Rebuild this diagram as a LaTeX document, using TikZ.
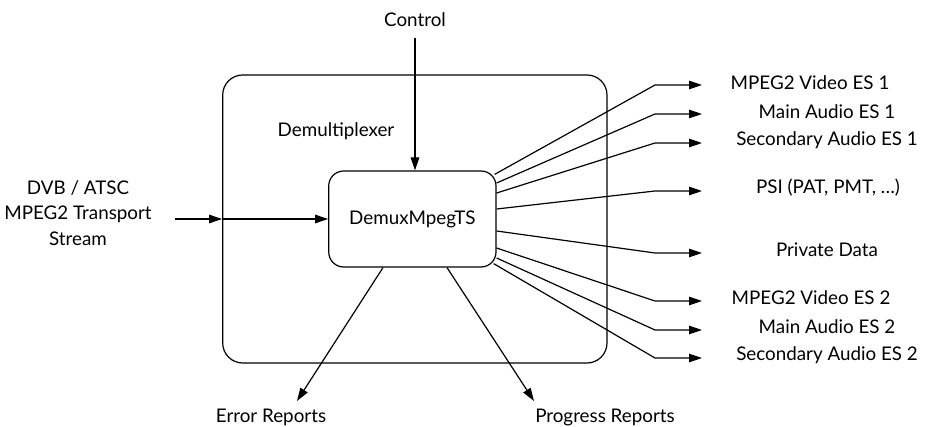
\documentclass[tikz,border=0pt]{standalone}
\usepackage{fontspec}
\setmainfont{Lato}
\usetikzlibrary{arrows.meta,calc}
\begin{document}
\begin{tikzpicture}[x=1pt,y=-1pt,
  lbl/.style={font=\fontsize{18.8}{25.5}\selectfont, inner sep=0pt, align=center},
  arr/.style={line width=1.2pt, -{Triangle[length=13pt,width=8.5pt]}},
  ln/.style={line width=1.2pt}]
\useasboundingbox (0,0) rectangle (929,427);
% boxes
\node[draw, ln, rounded corners=20pt, minimum width=384.3pt, minimum height=288pt, inner sep=0pt] (outer) at (414.85,219) {};
\node[draw, ln, rounded corners=15pt, minimum width=167.3pt, minimum height=96pt, inner sep=0pt, font=\fontsize{18.8}{25.5}\selectfont] (demux) at (412.35,219) {DemuxMpegTS};
% labels
\node[lbl] (ctrl) at (415,20) {Control};
\node[lbl] (demuxlbl) at (336,131) {Demultiplexer};
\node[lbl, inner xsep=23pt] (input) at (78,213) {DVB / ATSC\\MPEG2 Transport\\Stream};
\node[lbl] (err) at (271,417) {Error Reports};
\node[lbl] (prog) at (605,417) {Progress Reports};
\node[lbl] (r1) at (810,83) {MPEG2 Video ES 1};
\node[lbl] (r2) at (827,112) {Main Audio ES 1};
\node[lbl] (r3) at (827,140) {Secondary Audio ES 1};
\node[lbl] (r4) at (828,188) {PSI (PAT, PMT, …)};
\node[lbl] (r5) at (827,250) {Private Data};
\node[lbl] (r6) at (811,298) {MPEG2 Video ES 2};
\node[lbl] (r7) at (827,327) {Main Audio ES 2};
\node[lbl] (r8) at (827,355) {Secondary Audio ES 2};
% coordinates
\coordinate (errT) at (297,401);
\coordinate (progT) at (534,401);
\foreach \i/\y in {1/85,2/114,3/143,4/191,5/253,6/301,7/330,8/358}{
  \coordinate (e\i) at (655,\y);
  \coordinate (t\i) at (702,\y);
}
% connectors
\draw[arr] (input.east |- outer.west) -- (outer.west);
\draw[arr] (outer.west) -- (demux.west);
\draw[arr, shorten <=11pt] (ctrl.south) -- (ctrl.south |- demux.north);
\draw[arr] ([xshift=-29.35pt]demux.south) -- (errT);
\draw[arr] ([xshift=34.65pt]demux.south) -- (progT);
\draw[arr] ([xshift=-2pt,yshift=-4pt]demux.north east) -- (e1) -- (t1);
\draw[arr] ([yshift=36pt]demux.east) -- (e2) -- (t2);
\draw[arr] ([yshift=26pt]demux.east) -- (e3) -- (t3);
\draw[arr] ([yshift=10pt]demux.east) -- (e4) -- (t4);
\draw[arr] ([yshift=-12pt]demux.east) -- (e5) -- (t5);
\draw[arr] ([yshift=-29pt]demux.east) -- (e6) -- (t6);
\draw[arr] ([yshift=-39pt]demux.east) -- (e7) -- (t7);
\draw[arr] ([xshift=-3pt,yshift=4pt]demux.south east) -- (e8) -- (t8);
\end{tikzpicture}
\end{document}
